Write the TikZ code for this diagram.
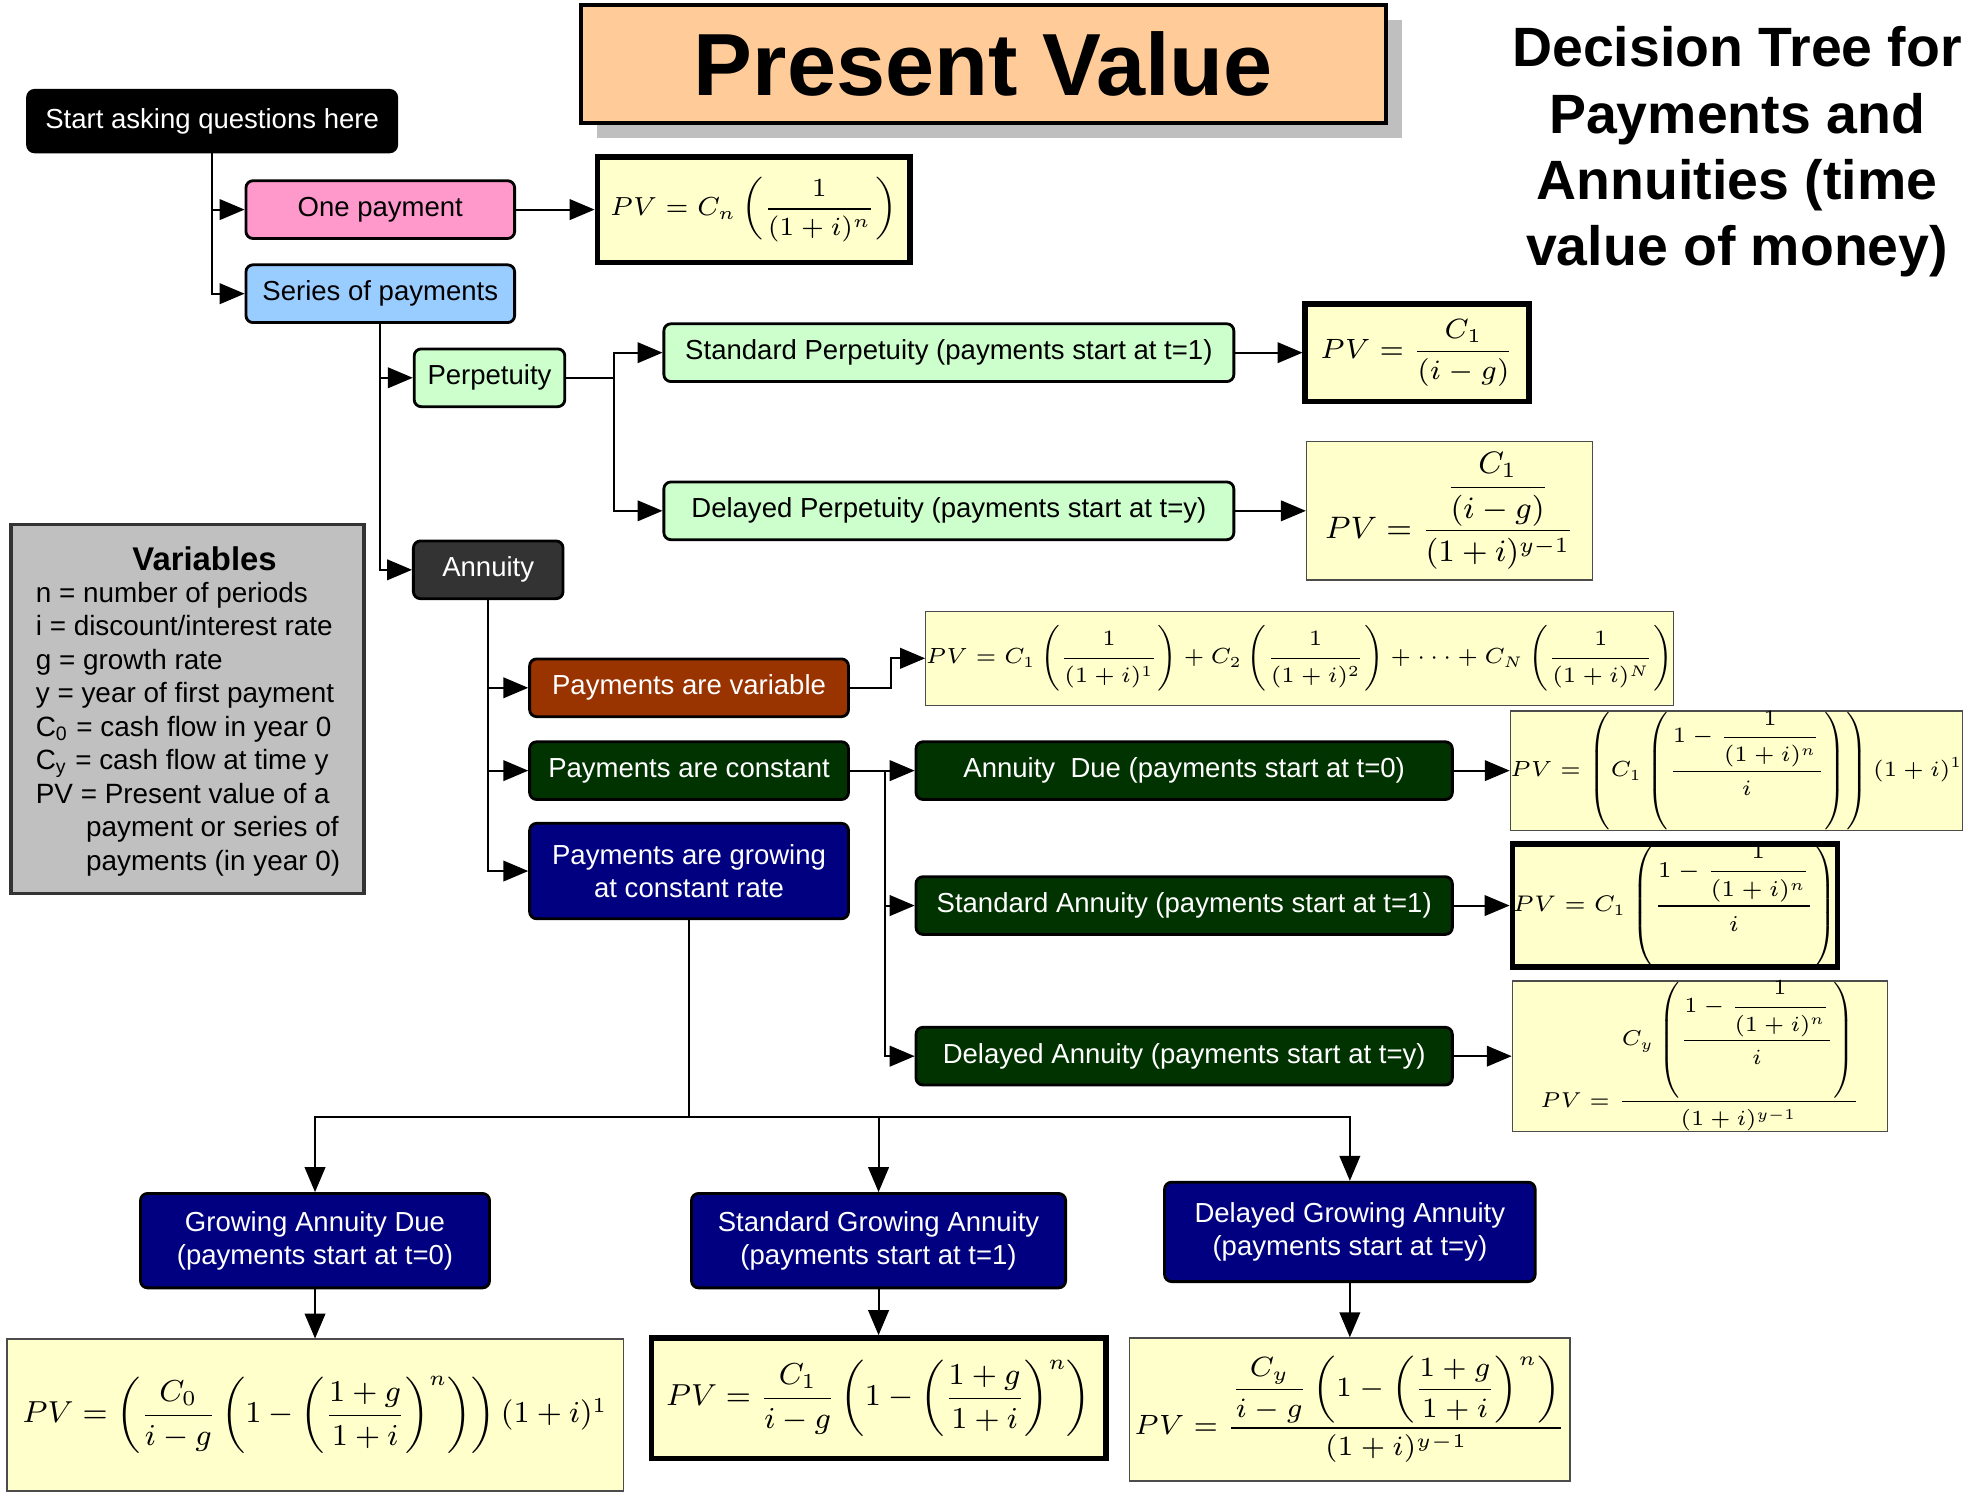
\RequirePackage{fix-cm}
\documentclass[tikz,border=0pt]{standalone}
\usepackage{amsmath}
\usepackage[no-math]{fontspec}
\setmainfont{Liberation Sans}
\usepackage{tikz}
\usetikzlibrary{arrows,shadows}
\definecolor{titlebg}{HTML}{FFCC99}
\definecolor{formulabg}{HTML}{FFFFCC}
\definecolor{onepink}{HTML}{FF99CC}
\definecolor{seriesblue}{HTML}{99CCFF}
\definecolor{perpgreen}{HTML}{CCFFCC}
\definecolor{annuitygray}{HTML}{333333}
\definecolor{variablerust}{HTML}{993300}
\definecolor{constgreen}{HTML}{003300}
\definecolor{growblue}{HTML}{000080}
\definecolor{varsgray}{HTML}{C0C0C0}
\tikzset{qbox/.style={draw, rounded corners=2pt, line width=0.8pt, align=center, inner sep=0pt, minimum height=0.575cm, font=\fontsize{7.8}{9.5}\selectfont},
	lightq/.style={qbox, text=black},
	darkq/.style={qbox, text=white},
	link/.style={line width=0.6pt},
	flow/.style={link, ->, >=triangle 45}
}
\tikzstyle{formula} = [draw=black!70, line width=0.4pt, fill=formulabg, inner sep=0pt, font=\fontsize{9}{11}\selectfont]
\tikzstyle{keyformula} = [formula, draw=black, line width=1.6pt]

\begin{document}
\begin{tikzpicture}[x=0.0125cm, y=-0.0125cm]
			\useasboundingbox (0,0) rectangle (1568,1198);
			\node[draw, line width=1pt, fill=titlebg, minimum width=8.0125cm, minimum height=1.175cm, font=\fontsize{25}{30}\selectfont\bfseries, drop shadow={shadow xshift=0.16cm, shadow yshift=-0.15cm, fill=black!25, opacity=1}] (title) at (783.5,51) {Present Value};
			\node[align=center, font=\fontsize{15.7}{18.8}\selectfont\bfseries] (heading) at (1384,121) {Decision Tree for\\Payments and\\Annuities (time\\value of money)};
			
			\node[darkq, fill=black, minimum width=3.675cm, minimum height=0.6125cm] (start) at (169,96.5) {Start asking questions here};
			\node[lightq, fill=onepink, minimum width=2.675cm] (one) at (303,167) {One payment};
			\node[lightq, fill=seriesblue, minimum width=2.675cm] (series) at (303,234) {Series of payments};
			\node[lightq, fill=perpgreen, minimum width=1.5cm] (perp) at (390,301) {Perpetuity};
			\node[lightq, fill=perpgreen, minimum width=5.675cm] (stdperp) at (756,281) {Standard Perpetuity (payments start at t=1)};
			\node[lightq, fill=perpgreen, minimum width=5.675cm] (delperp) at (756,407) {Delayed Perpetuity (payments start at t=y)};
			\node[darkq, fill=annuitygray, minimum width=1.49cm] (annuity) at (389,454) {Annuity};
			\node[darkq, fill=variablerust, minimum width=3.175cm] (variable) at (549,548) {Payments are variable};
			\node[darkq, fill=constgreen, minimum width=3.175cm] (constant) at (549,614) {Payments are constant};
			\node[darkq, fill=growblue, minimum width=3.175cm, minimum height=0.95cm] (growing) at (549,694) {Payments are growing\\at constant rate};
			\node[darkq, fill=constgreen, minimum width=5.34cm] (due) at (943.5,614) {Annuity~~Due (payments start at t=0)};
			\node[darkq, fill=constgreen, minimum width=5.34cm] (stdann) at (943.5,721.5) {Standard Annuity (payments start at t=1)};
			\node[darkq, fill=constgreen, minimum width=5.34cm] (delann) at (943.5,841.5) {Delayed Annuity (payments start at t=y)};
			\node[darkq, fill=growblue, minimum width=3.475cm, minimum height=0.94cm] (grdue) at (251,988.5) {Growing Annuity Due\\(payments start at t=0)};
			\node[darkq, fill=growblue, minimum width=3.725cm, minimum height=0.94cm] (grstd) at (700,988.5) {Standard Growing Annuity\\(payments start at t=1)};
			\node[darkq, fill=growblue, minimum width=3.69cm, minimum height=0.99cm] (grdel) at (1075.5,981.5) {Delayed Growing Annuity\\(payments start at t=y)};
			
			% formulas
			\node[keyformula, minimum width=3.1125cm, minimum height=1.05cm, font=\fontsize{7.4}{9}\selectfont] (pvone) at (600.5,167) {$PV=C_n\left(\dfrac{1}{(1+i)^n}\right)$};
			\node[keyformula, minimum width=2.225cm, minimum height=0.975cm, font=\fontsize{7.9}{9}\selectfont] (pvstdperp) at (1129,281) {$PV=\dfrac{C_1}{(i-g)}$};
			\node[formula, minimum width=2.85cm, minimum height=1.375cm, font=\fontsize{8.8}{10}\selectfont] (pvdelperp) at (1155,407) {$PV=\dfrac{\dfrac{C_1}{(i-g)}}{(1+i)^{y-1}}$};
			\node[formula, minimum width=7.3125cm, minimum height=0.9375cm, font=\fontsize{6.2}{8}\selectfont] (pvvar) at (1035.5,524.5) {$PV=C_1\left(\dfrac{1}{(1+i)^1}\right)+C_2\left(\dfrac{1}{(1+i)^2}\right)+\cdots+C_N\left(\dfrac{1}{(1+i)^N}\right)$};
			\node[formula, minimum width=4.4625cm, minimum height=1.1875cm, font=\fontsize{6.2}{8}\selectfont] (pvdue) at (1383.5,614) {$PV=\left(C_1\left(\dfrac{1-\dfrac{1}{(1+i)^n}}{i}\right)\right)(1+i)^1$};
			\node[keyformula, minimum width=3.2375cm, minimum height=1.2cm, font=\fontsize{6.4}{8}\selectfont] (pvstdann) at (1334.5,721.5) {$PV=C_1\left(\dfrac{1-\dfrac{1}{(1+i)^n}}{i}\right)$};
			\node[formula, minimum width=3.7375cm, minimum height=1.35cm, font=\fontsize{6.1}{8}\selectfont] (pvdelann) at (1354.5,841.5) {$PV=\dfrac{C_y\left(\dfrac{1-\dfrac{1}{(1+i)^n}}{i}\right)}{(1+i)^{y-1}}$};
			\node[formula, minimum width=6.1375cm, minimum height=1.5125cm, font=\fontsize{8.6}{10}\selectfont] (pvgrdue) at (251,1127.5) {$PV=\left(\dfrac{C_0}{i-g}\left(1-\left(\dfrac{1+g}{1+i}\right)^{n}\right)\right)(1+i)^1$};
			\node[keyformula, minimum width=4.525cm, minimum height=1.2cm, font=\fontsize{8.6}{10}\selectfont] (pvgrstd) at (700,1114) {$PV=\dfrac{C_1}{i-g}\left(1-\left(\dfrac{1+g}{1+i}\right)^{n}\right)$};
			\node[formula, minimum width=4.3875cm, minimum height=1.425cm, font=\fontsize{7.9}{9}\selectfont] (pvgrdel) at (1075.5,1123) {$PV=\dfrac{\dfrac{C_y}{i-g}\left(1-\left(\dfrac{1+g}{1+i}\right)^{n}\right)}{(1+i)^{y-1}}$};
			
			% variables
			\node[draw=black!80, line width=1pt, fill=varsgray, minimum width=3.5125cm, minimum height=3.675cm] (vars) at (149.5,565) {};
			\node[font=\fontsize{9.3}{11}\selectfont\bfseries] (varstitle) at (163,445) {Variables};
			\node[anchor=north west, align=left, inner sep=0pt, font=\fontsize{7.9}{9.5}\selectfont] (varslist) at (28,463) {n = number of periods\\i = discount/interest rate\\g = growth rate\\y = year of first payment\\C\textsubscript{0} = cash flow in year 0\\C\textsubscript{y} = cash flow at time y\\PV = Present value of a\\\hspace*{0.5cm}payment or series of\\\hspace*{0.5cm}payments (in year 0)};
			
			% draw lines
			\draw[flow] (start) |- (one);
			\draw[flow] (start) |- (series);
			\draw[flow] (one) -- (pvone);
			\draw[flow] (series) |- (perp);
			\draw[flow] (series) |- (annuity);
			\coordinate (pj) at (489,301);
			\draw[link] (perp) -- (pj);
			\draw[flow] (pj) |- (stdperp);
			\draw[flow] (pj) |- (delperp);
			\draw[flow] (stdperp) -- (pvstdperp);
			\draw[flow] (delperp) -- (pvdelperp);
			\draw[flow] (annuity) |- (variable);
			\draw[flow] (annuity) |- (constant);
			\draw[flow] (annuity) |- (growing);
			\coordinate (vj) at (710,548);
			\draw[flow] (variable) -- (vj) |- (pvvar);
			\coordinate (cj) at (705,614);
			\draw[flow] (constant) -- (due);
			\draw[flow] (cj) |- (stdann);
			\draw[flow] (cj) |- (delann);
			\draw[flow] (due) -- (pvdue);
			\draw[flow] (stdann) -- (pvstdann);
			\draw[flow] (delann) -- (pvdelann);
			\coordinate (gj) at (549,890);
			\draw[link] (growing) -- (gj);
			\draw[flow] (gj) -| (grdue);
			\draw[flow] (gj) -| (grstd);
			\draw[flow] (gj) -| (grdel);
			\draw[flow] (grdue) -- (pvgrdue);
			\draw[flow] (grstd) -- (pvgrstd);
			\draw[flow] (grdel) -- (pvgrdel);
		\end{tikzpicture}
\end{document}
